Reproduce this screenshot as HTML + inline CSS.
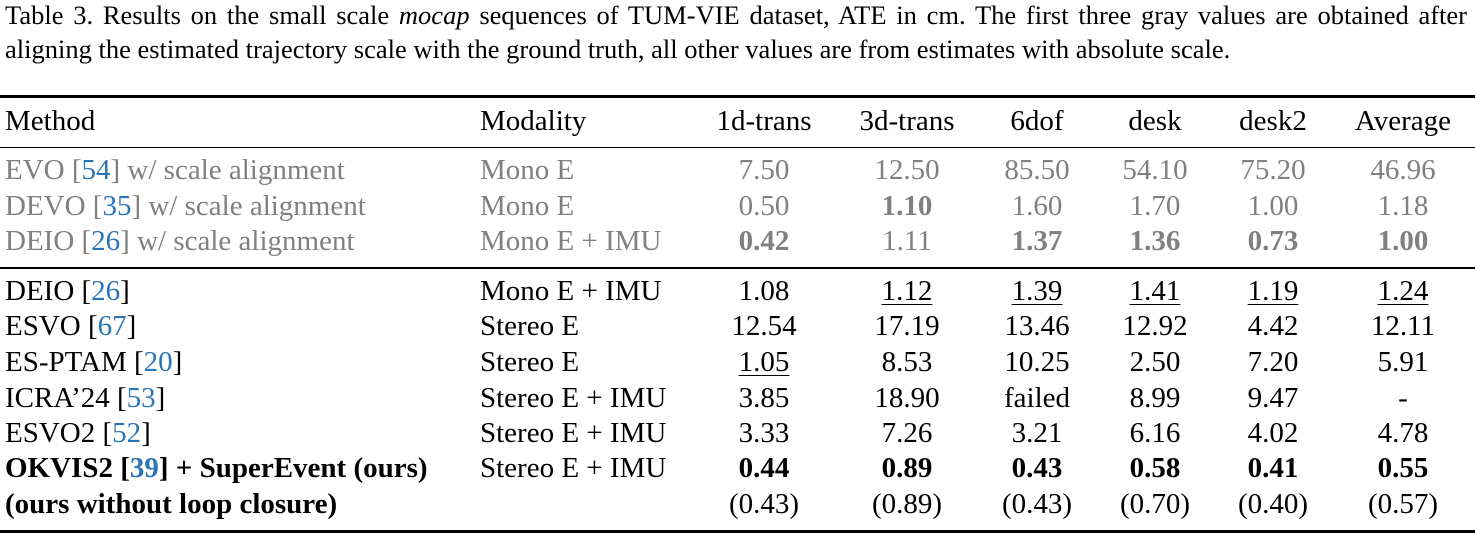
<!DOCTYPE html>
<html><head><meta charset="utf-8"><style>
body{margin:0;width:1475px;height:536px;background:#fff;position:relative;overflow:hidden;font-family:"Liberation Serif",serif;color:#000}
.t{position:absolute;font-size:29px;line-height:29px;white-space:nowrap;margin-top:2px}
.c{transform:translateX(-50%)}
.g{color:#808080}
.b{color:#2a74b8}
.u{text-decoration:underline;text-decoration-thickness:1px;text-underline-offset:4px}
.r{position:absolute;left:0;width:1475px;background:#000}
.cap{position:absolute;left:5px;font-size:26.5px;line-height:26px;white-space:nowrap}
</style></head><body>
<div class="cap" style="top:2px;width:1462px;text-align:justify;text-align-last:justify">Table 3. Results on the small scale <i>mocap</i> sequences of TUM-VIE dataset, ATE in cm. The first three gray values are obtained after</div>
<div class="cap" style="top:36px">aligning the estimated trajectory scale with the ground truth, all other values are from estimates with absolute scale.</div>
<div class="r" style="top:95px;height:3px"></div>
<div class="r" style="top:147px;height:1px"></div>
<div class="r" style="top:267px;height:2px"></div>
<div class="r" style="top:530px;height:3px"></div>

<div class="t" style="left:5px;top:105px">Method</div>
<div class="t" style="left:480px;top:105px">Modality</div>
<div class="t c" style="left:764px;top:105px">1d-trans</div>
<div class="t c" style="left:907px;top:105px">3d-trans</div>
<div class="t c" style="left:1037px;top:105px">6dof</div>
<div class="t c" style="left:1155px;top:105px">desk</div>
<div class="t c" style="left:1273px;top:105px">desk2</div>
<div class="t c" style="left:1403px;top:105px">Average</div>

<div class="t g" style="left:5px;top:154px">EVO [<span class="b">54</span>] w/ scale alignment</div>
<div class="t g" style="left:480px;top:154px">Mono E</div>
<div class="t g c" style="left:764px;top:154px">7.50</div>
<div class="t g c" style="left:907px;top:154px">12.50</div>
<div class="t g c" style="left:1037px;top:154px">85.50</div>
<div class="t g c" style="left:1155px;top:154px">54.10</div>
<div class="t g c" style="left:1273px;top:154px">75.20</div>
<div class="t g c" style="left:1403px;top:154px">46.96</div>

<div class="t g" style="left:5px;top:190px">DEVO [<span class="b">35</span>] w/ scale alignment</div>
<div class="t g" style="left:480px;top:190px">Mono E</div>
<div class="t g c" style="left:764px;top:190px">0.50</div>
<div class="t g c" style="left:907px;top:190px"><b>1.10</b></div>
<div class="t g c" style="left:1037px;top:190px">1.60</div>
<div class="t g c" style="left:1155px;top:190px">1.70</div>
<div class="t g c" style="left:1273px;top:190px">1.00</div>
<div class="t g c" style="left:1403px;top:190px">1.18</div>

<div class="t g" style="left:5px;top:225px">DEIO [<span class="b">26</span>] w/ scale alignment</div>
<div class="t g" style="left:480px;top:225px">Mono E + IMU</div>
<div class="t g c" style="left:764px;top:225px"><b>0.42</b></div>
<div class="t g c" style="left:907px;top:225px">1.11</div>
<div class="t g c" style="left:1037px;top:225px"><b>1.37</b></div>
<div class="t g c" style="left:1155px;top:225px"><b>1.36</b></div>
<div class="t g c" style="left:1273px;top:225px"><b>0.73</b></div>
<div class="t g c" style="left:1403px;top:225px"><b>1.00</b></div>

<div class="t" style="left:5px;top:275px">DEIO [<span class="b">26</span>]</div>
<div class="t" style="left:480px;top:275px">Mono E + IMU</div>
<div class="t c" style="left:764px;top:275px">1.08</div>
<div class="t c u" style="left:907px;top:275px">1.12</div>
<div class="t c u" style="left:1037px;top:275px">1.39</div>
<div class="t c u" style="left:1155px;top:275px">1.41</div>
<div class="t c u" style="left:1273px;top:275px">1.19</div>
<div class="t c u" style="left:1403px;top:275px">1.24</div>

<div class="t" style="left:5px;top:310px">ESVO [<span class="b">67</span>]</div>
<div class="t" style="left:480px;top:310px">Stereo E</div>
<div class="t c" style="left:764px;top:310px">12.54</div>
<div class="t c" style="left:907px;top:310px">17.19</div>
<div class="t c" style="left:1037px;top:310px">13.46</div>
<div class="t c" style="left:1155px;top:310px">12.92</div>
<div class="t c" style="left:1273px;top:310px">4.42</div>
<div class="t c" style="left:1403px;top:310px">12.11</div>

<div class="t" style="left:5px;top:346px">ES-PTAM [<span class="b">20</span>]</div>
<div class="t" style="left:480px;top:346px">Stereo E</div>
<div class="t c u" style="left:764px;top:346px">1.05</div>
<div class="t c" style="left:907px;top:346px">8.53</div>
<div class="t c" style="left:1037px;top:346px">10.25</div>
<div class="t c" style="left:1155px;top:346px">2.50</div>
<div class="t c" style="left:1273px;top:346px">7.20</div>
<div class="t c" style="left:1403px;top:346px">5.91</div>

<div class="t" style="left:5px;top:382px">ICRA’24 [<span class="b">53</span>]</div>
<div class="t" style="left:480px;top:382px">Stereo E + IMU</div>
<div class="t c" style="left:764px;top:382px">3.85</div>
<div class="t c" style="left:907px;top:382px">18.90</div>
<div class="t c" style="left:1037px;top:382px">failed</div>
<div class="t c" style="left:1155px;top:382px">8.99</div>
<div class="t c" style="left:1273px;top:382px">9.47</div>
<div class="t c" style="left:1403px;top:382px">-</div>

<div class="t" style="left:5px;top:417px">ESVO2 [<span class="b">52</span>]</div>
<div class="t" style="left:480px;top:417px">Stereo E + IMU</div>
<div class="t c" style="left:764px;top:417px">3.33</div>
<div class="t c" style="left:907px;top:417px">7.26</div>
<div class="t c" style="left:1037px;top:417px">3.21</div>
<div class="t c" style="left:1155px;top:417px">6.16</div>
<div class="t c" style="left:1273px;top:417px">4.02</div>
<div class="t c" style="left:1403px;top:417px">4.78</div>

<div class="t" style="left:5px;top:452px"><b>OKVIS2 [<span class="b">39</span>] + SuperEvent (ours)</b></div>
<div class="t" style="left:480px;top:452px">Stereo E + IMU</div>
<div class="t c" style="left:764px;top:452px"><b>0.44</b></div>
<div class="t c" style="left:907px;top:452px"><b>0.89</b></div>
<div class="t c" style="left:1037px;top:452px"><b>0.43</b></div>
<div class="t c" style="left:1155px;top:452px"><b>0.58</b></div>
<div class="t c" style="left:1273px;top:452px"><b>0.41</b></div>
<div class="t c" style="left:1403px;top:452px"><b>0.55</b></div>

<div class="t" style="left:5px;top:488px"><b>(ours without loop closure)</b></div>
<div class="t c" style="left:764px;top:488px">(0.43)</div>
<div class="t c" style="left:907px;top:488px">(0.89)</div>
<div class="t c" style="left:1037px;top:488px">(0.43)</div>
<div class="t c" style="left:1155px;top:488px">(0.70)</div>
<div class="t c" style="left:1273px;top:488px">(0.40)</div>
<div class="t c" style="left:1403px;top:488px">(0.57)</div>
</body></html>
